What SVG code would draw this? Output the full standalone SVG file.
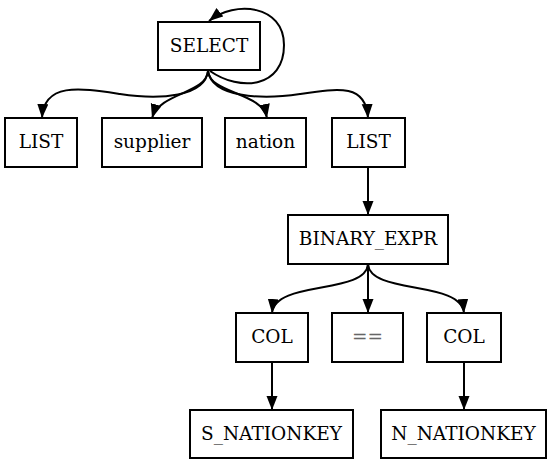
<svg xmlns="http://www.w3.org/2000/svg" width="552" height="465" viewBox="0 0 552 465">
<style>
.n rect{fill:#fff;stroke:#000;stroke-width:2}
.n text{font-family:"DejaVu Serif","Liberation Serif",serif;font-size:18.5px;text-anchor:middle;fill:#000}
.n text.g{fill:#666}
.e path{fill:none;stroke:#000;stroke-width:2}
</style>
<defs>
<marker id="a" markerUnits="userSpaceOnUse" markerWidth="15" markerHeight="12" refX="14" refY="5.5" orient="auto">
<path d="M0,0 L14,5.5 L0,11 z" fill="#000"/>
</marker>
</defs>
<rect width="552" height="465" fill="#fff"/>
<g class="e" marker-end="url(#a)">
<path d="M210,71 C240,92 284,88 284,45 C284,5 235,0 209,21"/>
<path d="M208,71 C205,97 160,100 120,94 C80,88 44,82 42,118"/>
<path d="M208,71 C206,94 160,92 152,118"/>
<path d="M208,71 C210,94 262,92 267,118"/>
<path d="M208,71 C212,97 260,100 300,94 C340,88 366,84 368,118"/>
<path d="M368,167 L368,215"/>
<path d="M368,264 C366,295 275,280 272,313"/>
<path d="M368,264 L368,313"/>
<path d="M368,264 C370,295 461,280 464,313"/>
<path d="M272,362 L272,410"/>
<path d="M464,362 L464,410"/>
</g>
<g class="n" id="select"><rect x="158" y="22" width="102" height="48"/><text x="209" y="52">SELECT</text></g>
<g class="n" id="list1"><rect x="5" y="118" width="72" height="49"/><text x="41" y="148">LIST</text></g>
<g class="n" id="supplier"><rect x="102" y="118" width="100" height="49"/><text x="152" y="148">supplier</text></g>
<g class="n" id="nation"><rect x="225" y="118" width="81" height="49"/><text x="265.5" y="148">nation</text></g>
<g class="n" id="list2"><rect x="332" y="118" width="73" height="49"/><text x="368.5" y="148">LIST</text></g>
<g class="n" id="binexpr"><rect x="288" y="215" width="160" height="49"/><text x="368" y="245">BINARY_EXPR</text></g>
<g class="n" id="col1"><rect x="236" y="313" width="72" height="49"/><text x="272" y="343">COL</text></g>
<g class="n" id="eq"><rect x="332" y="313" width="71" height="49"/><text class="g" x="367.5" y="343">==</text></g>
<g class="n" id="col2"><rect x="427" y="313" width="74" height="49"/><text x="464" y="343">COL</text></g>
<g class="n" id="snk"><rect x="190" y="410" width="163" height="48"/><text x="271.5" y="440">S_NATIONKEY</text></g>
<g class="n" id="nnk"><rect x="381" y="410" width="165" height="48"/><text x="463.5" y="440">N_NATIONKEY</text></g>
</svg>
